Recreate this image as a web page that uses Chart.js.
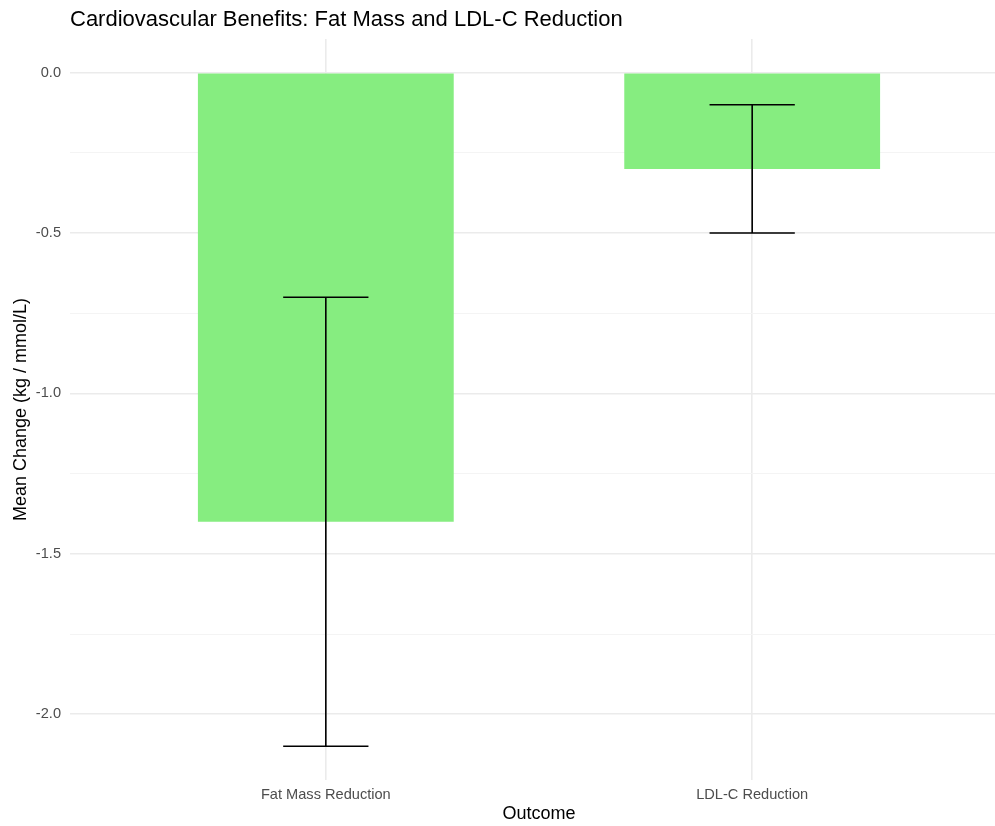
<!DOCTYPE html>
<html>
<head>
<meta charset="utf-8">
<script src="https://cdn.jsdelivr.net/npm/chart.js@4"></script>
<style>
  html, body { margin: 0; padding: 0; background: #fff; overflow: hidden; }
  #wrap { width: 1008px; height: 826px; }
</style>
</head>
<body>
<div id="wrap"><canvas id="chart" width="1008" height="826"></canvas></div>
<script>
const outcomes = ['Fat Mass Reduction', 'LDL-C Reduction'];
const meanChange = [-1.4, -0.3];
const ciLower = [-2.1, -0.5];
const ciUpper = [-0.7, -0.1];

const yMajorTicks = [-2.0, -1.5, -1.0, -0.5, 0.0];
const yMinorTicks = [-1.75, -1.25, -0.75, -0.25];
const yLimits = [-2.205, 0.105];
const xLimits = [-0.6, 1.6];

const FONT = "'Liberation Sans', Arial, sans-serif";
const barColor = '#86ED80';

// error bars drawn on top of the bars, positioned through the scales
const errorBars = {
  id: 'errorBars',
  afterDatasetsDraw(chart) {
    const ctx = chart.ctx;
    const x = chart.scales.x;
    const y = chart.scales.y;
    const capHalf = 0.1;
    ctx.save();
    ctx.strokeStyle = '#000';
    ctx.lineWidth = 1.6;
    outcomes.forEach((name, i) => {
      const xc = x.getPixelForValue(i);
      const yl = y.getPixelForValue(ciLower[i]);
      const yu = y.getPixelForValue(ciUpper[i]);
      const xl = x.getPixelForValue(i - capHalf);
      const xr = x.getPixelForValue(i + capHalf);
      ctx.beginPath();
      ctx.moveTo(xc, yl); ctx.lineTo(xc, yu);
      ctx.moveTo(xl, yl); ctx.lineTo(xr, yl);
      ctx.moveTo(xl, yu); ctx.lineTo(xr, yu);
      ctx.stroke();
    });
    ctx.restore();
  }
};

const isMajor = v => yMajorTicks.some(t => Math.abs(t - v) < 1e-6);

new Chart(document.getElementById('chart'), {
  type: 'bar',
  data: {
    datasets: [{
      data: outcomes.map((o, i) => ({ x: i, y: meanChange[i] })),
      backgroundColor: barColor,
      borderWidth: 0,
      categoryPercentage: 0.6,
      barPercentage: 1.0
    }]
  },
  options: {
    responsive: false,
    animation: false,
    layout: { padding: 0 },
    plugins: {
      legend: { display: false },
      tooltip: { enabled: false },
      title: {
        display: true,
        text: 'Cardiovascular Benefits: Fat Mass and LDL-C Reduction',
        align: 'start',
        fullSize: false,
        color: '#000',
        font: { family: FONT, size: 22, weight: 'normal', lineHeight: 1.2 },
        padding: { top: 6.5, bottom: 6.1 }
      }
    },
    scales: {
      x: {
        type: 'linear',
        min: xLimits[0],
        max: xLimits[1],
        offset: false,
        afterBuildTicks: axis => { axis.ticks = outcomes.map((o, i) => ({ value: i })); },
        afterFit: axis => { axis.height = 46; },
        border: { display: false },
        grid: { color: '#EBEBEB', lineWidth: 1.6, drawTicks: false, offset: false },
        ticks: {
          color: '#4D4D4D',
          padding: 6,
          font: { family: FONT, size: 14.6 },
          callback: v => outcomes[v] ?? ''
        },
        title: {
          display: true,
          text: 'Outcome',
          color: '#000',
          font: { family: FONT, size: 18 },
          padding: { top: 0, bottom: 1 }
        }
      },
      y: {
        min: yLimits[0],
        max: yLimits[1],
        afterBuildTicks: axis => {
          axis.ticks = yMajorTicks.concat(yMinorTicks).sort((a, b) => a - b).map(v => ({ value: v }));
        },
        afterFit: axis => { axis.width = 70; },
        border: { display: false },
        grid: {
          drawTicks: false,
          color: ctx => isMajor(ctx.tick.value) ? '#EBEBEB' : '#F4F4F4',
          lineWidth: ctx => isMajor(ctx.tick.value) ? 1.6 : 1
        },
        ticks: {
          color: '#4D4D4D',
          padding: 9,
          font: { family: FONT, size: 14.6 },
          callback: v => isMajor(v) ? v.toFixed(1) : ''
        },
        title: {
          display: true,
          text: 'Mean Change (kg / mmol/L)',
          color: '#000',
          font: { family: FONT, size: 18 },
          padding: { top: 10, bottom: 4 }
        }
      }
    }
  },
  plugins: [errorBars]
});
</script>
</body>
</html>
